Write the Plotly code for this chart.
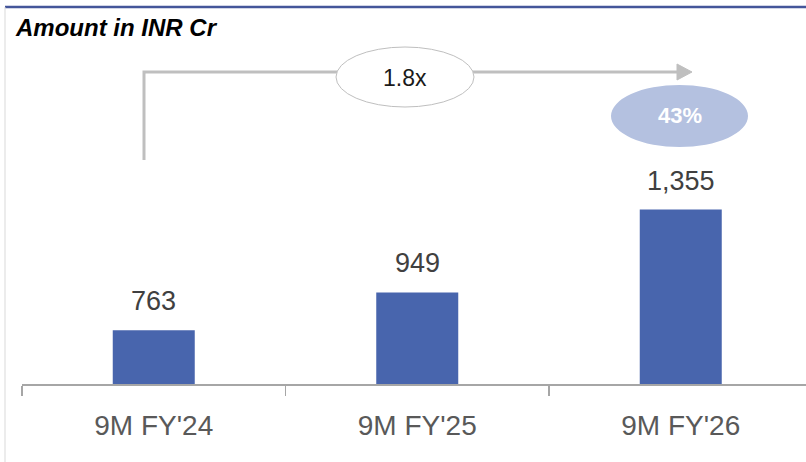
import plotly.graph_objects as go

# ---- data ----
categories = ["9M FY'24", "9M FY'25", "9M FY'26"]
values = [763, 949, 1355]
value_labels = ["763", "949", "1,355"]
growth_label = "1.8x"
yoy_label = "43%"
title_text = "Amount in INR Cr"

# ---- layout constants (screen pixels) ----
W, H = 806, 462
AX_LEFT, AX_BOTTOM, PLOT_TOP = 22, 384, 40
L = AX_LEFT
T = PLOT_TOP
B = H - AX_BOTTOM
R = 0
PW, PH = W - L - R, H - T - B
Y0 = 500
PX_PER_UNIT = 0.204
Y1 = Y0 + PH / PX_PER_UNIT
CAT_W = 263.5
X1 = -0.5 + PW / CAT_W

FONT = "Liberation Sans"


def px(x):
    return (x - AX_LEFT) / PW


def py(y):
    return (AX_BOTTOM - y) / PH


fig = go.Figure()
fig.add_trace(go.Bar(
    x=categories, y=values, marker=dict(color="#4865AD", line=dict(width=0)),
    hoverinfo="skip",
))

annotations = []
for c, v, lab in zip(categories, values, value_labels):
    annotations.append(dict(x=c, y=v, xref="x", yref="y", text=lab, showarrow=False,
                            yanchor="middle", yshift=29,
                            font=dict(family=FONT, size=27, color="#404040")))

annotations.append(dict(x=px(13), y=py(28), xref="paper", yref="paper", text="<b><i>" + title_text + "</i></b>",
                        showarrow=False, xanchor="left", yanchor="middle",
                        font=dict(family=FONT, size=24, color="#000000")))
annotations.append(dict(x=px(405), y=py(78), xref="paper", yref="paper", text=growth_label,
                        showarrow=False, xanchor="center", yanchor="middle",
                        font=dict(family=FONT, size=23, color="#1a1a1a")))
annotations.append(dict(x=px(679.5), y=py(116), xref="paper", yref="paper", text="<b>" + yoy_label + "</b>",
                        showarrow=False, xanchor="center", yanchor="middle",
                        font=dict(family=FONT, size=22, color="#FFFFFF")))

shapes = [
    # top rule
    dict(type="line", xref="paper", yref="paper", x0=px(5), x1=px(806), y0=py(7), y1=py(7),
         line=dict(color="#44569A", width=2.5)),
    # left border
    dict(type="line", xref="paper", yref="paper", x0=px(5), x1=px(5), y0=py(7), y1=py(462),
         line=dict(color="#D9D9D9", width=1)),
    # growth arrow (elbow)
    dict(type="path", xref="paper", yref="paper",
         path=f"M {px(144)},{py(160)} L {px(144)},{py(72)} L {px(679)},{py(72)}",
         line=dict(color="#BFBFBF", width=3)),
    dict(type="path", xref="paper", yref="paper",
         path=f"M {px(677)},{py(64)} L {px(692)},{py(72)} L {px(677)},{py(80)} Z",
         fillcolor="#BFBFBF", line=dict(color="#BFBFBF", width=1)),
    # 1.8x ellipse
    dict(type="circle", xref="paper", yref="paper", x0=px(336), x1=px(474), y0=py(107), y1=py(47),
         fillcolor="#FFFFFF", line=dict(color="#BFBFBF", width=1)),
    # 43% ellipse
    dict(type="circle", xref="paper", yref="paper", x0=px(611), x1=px(748), y0=py(147), y1=py(85),
         fillcolor="#B4C1E0", line=dict(width=0)),
]

fig.update_layout(
    width=W, height=H,
    margin=dict(l=L, r=R, t=T, b=B, pad=0),
    paper_bgcolor="#FFFFFF", plot_bgcolor="#FFFFFF",
    showlegend=False,
    bargap=1 - 82 / CAT_W,
    annotations=annotations,
    shapes=shapes,
    xaxis=dict(
        type="category", range=[-0.5, X1], tickson="boundaries",
        ticks="outside", ticklen=10, tickwidth=1.5, tickcolor="#A6A6A6",
        showline=True, linecolor="#A6A6A6", linewidth=2,
        showgrid=False, zeroline=False, ticklabelstandoff=15,
        tickfont=dict(family=FONT, size=28, color="#595959"),
    ),
    yaxis=dict(range=[Y0, Y1], visible=False, showgrid=False, zeroline=False),
)

fig.write_html("out.html", config={"displayModeBar": False, "staticPlot": True},
               post_script="document.body.style.margin='0px';document.body.style.overflow='hidden';")
